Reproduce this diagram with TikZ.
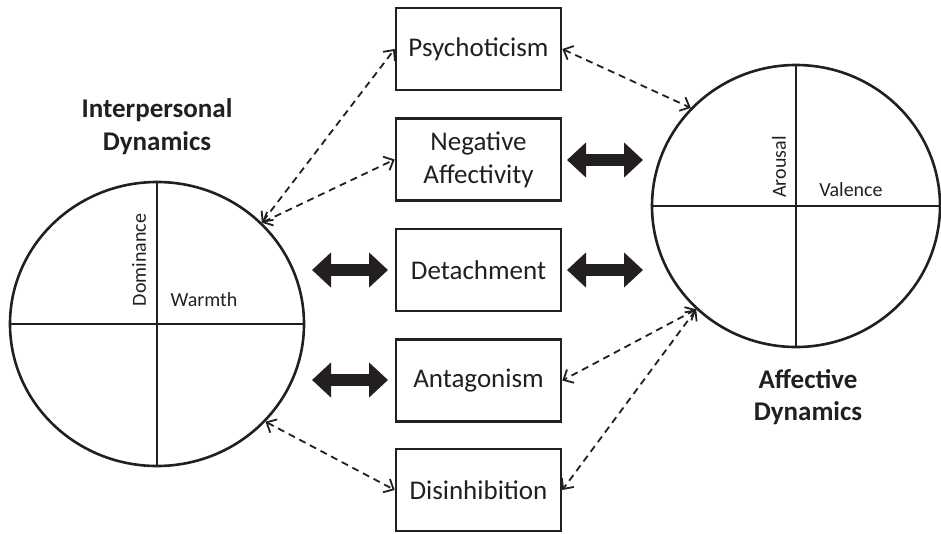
\documentclass[tikz,border=0pt]{standalone}
\usepackage{fontspec}
\setmainfont{Carlito}
\usetikzlibrary{arrows.meta,shapes.geometric}
\definecolor{ink}{HTML}{231F20}
\begin{document}
\begin{tikzpicture}[x=1pt,y=-1pt,
  box/.style={draw=ink, line width=2.6pt, minimum width=165pt, minimum height=82pt, inner sep=0pt,
    font=\fontsize{27}{33}\selectfont, text=ink, align=center},
  ring/.style={ellipse, draw=ink, line width=2.6pt, inner sep=0pt},
  axisline/.style={draw=ink, line width=1.3pt},
  small/.style={font=\fontsize{20}{24}\selectfont, text=ink, inner sep=0pt},
  ttl/.style={font=\bfseries\fontsize{27}{33}\selectfont, text=ink, inner sep=0pt, anchor=base},
  dlink/.style={draw=ink, line width=1.8pt, dash pattern=on 7pt off 5pt,
    {Straight Barb[length=8pt,width=15pt,line width=1.8pt]}-{Straight Barb[length=8pt,width=15pt,line width=1.8pt]}},
  bigarrow/.style={draw=ink, line width=12pt, {Triangle[length=19pt,width=34pt]}-{Triangle[length=19pt,width=34pt]}}
]
\useasboundingbox (0,0) rectangle (941,533);

% circles
\node[ring, minimum width=294pt, minimum height=284pt] (lc) at (157,324) {};
\node[ring, minimum width=288pt, minimum height=282pt] (rc) at (796,206) {};
\draw[axisline] (lc.north) -- (lc.south);
\draw[axisline] (lc.west) -- (lc.east);
\draw[axisline] (rc.north) -- (rc.south);
\draw[axisline] (rc.west) -- (rc.east);

% circle labels
\node[small, rotate=90] (dom) at (139,260) {Dominance};
\node[small] (warm) at (204,300) {Warmth};
\node[small, rotate=90] (aro) at (779,167) {Arousal};
\node[small] (val) at (851,190) {Valence};

% titles
\node[ttl] (ip1) at (157,117) {Interpersonal};
\node[ttl] (ip2) at (157,150) {Dynamics};
\node[ttl] (af1) at (808,388) {Affective};
\node[ttl] (af2) at (808,420) {Dynamics};

% boxes
\node[box] (psy) at (478.5,49) {Psychoticism};
\node[box] (neg) at (478.5,159.5) {Negative\\Affectivity};
\node[box] (det) at (478.5,270) {Detachment};
\node[box] (ant) at (478.5,380.5) {Antagonism};
\node[box] (dis) at (478.5,490) {Disinhibition};

% thick arrows
\coordinate (l1a) at (312,270); \coordinate (l1b) at (388,270);
\coordinate (l2a) at (312,380); \coordinate (l2b) at (388,380);
\coordinate (r1a) at (567,160); \coordinate (r1b) at (643,160);
\coordinate (r2a) at (567,270); \coordinate (r2b) at (643,270);
\draw[bigarrow] (l1a) -- (l1b);
\draw[bigarrow] (l2a) -- (l2b);
\draw[bigarrow] (r1a) -- (r1b);
\draw[bigarrow] (r2a) -- (r2b);

% dashed links
\draw[dlink] (lc.44) -- (psy.west);
\draw[dlink] (lc.44) -- (neg.west);
\draw[dlink] (psy.east) -- (rc.137);
\draw[dlink] (lc.-42) -- (dis.west);
\draw[dlink] (rc.226) -- (ant.east);
\draw[dlink] (rc.226) -- (dis.east);
\end{tikzpicture}
\end{document}
